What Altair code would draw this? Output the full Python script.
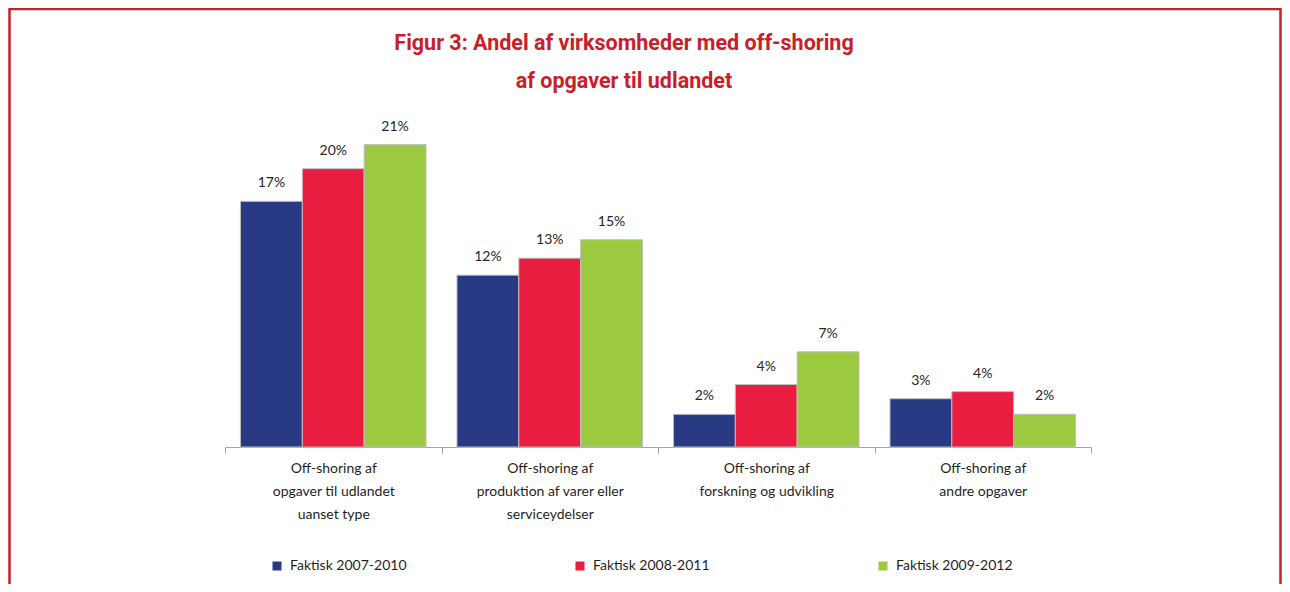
import altair as alt
import pandas as pd

categories = [
    "Off-shoring af\nopgaver til udlandet\nuanset type",
    "Off-shoring af\nproduktion af varer eller\nserviceydelser",
    "Off-shoring  af\nforskning og udvikling",
    "Off-shoring  af\nandre opgaver",
]
series = ["Faktisk 2007-2010", "Faktisk 2008-2011", "Faktisk 2009-2012"]
values_2007_2010 = [0.173, 0.121, 0.023, 0.034]
values_2008_2011 = [0.196, 0.133, 0.044, 0.039]
values_2009_2012 = [0.213, 0.146, 0.067, 0.023]
colors = ["#283a84", "#e91d3f", "#9bc93f"]
title_lines = ["Figur 3: Andel af virksomheder med off-shoring", "af opgaver til udlandet"]

rows = []
for s, vals in zip(series, [values_2007_2010, values_2008_2011, values_2009_2012]):
    for c, v in zip(categories, vals):
        rows.append({"kategori": c, "serie": s, "andel": v})
df = pd.DataFrame(rows)

FONT = "Lato"
W, H = 866, 355
RED = "#c8202a"

x_enc = alt.X(
    "kategori:N",
    sort=categories,
    scale=alt.Scale(paddingInner=0, paddingOuter=0),
    axis=alt.Axis(
        title=None,
        labelAngle=0,
        labelExpr="split(datum.label, '\\n')",
        labelFont=FONT,
        labelFontSize=14,
        labelColor="#1f1f1f",
        labelLineHeight=23,
        labelPadding=8,
        labelLimit=300,
        tickBand="extent",
        tickSize=6,
        tickColor="#a6a6a6",
        domainColor="#a6a6a6",
        grid=False,
    ),
)
xoff = alt.XOffset("serie:N", sort=series, scale=alt.Scale(paddingInner=0, paddingOuter=0.25))
y_enc = alt.Y("andel:Q", scale=alt.Scale(domain=[0, 0.25]), axis=None)

bars = alt.Chart(df).mark_bar(stroke="#bfbfbf", strokeWidth=1).encode(
    x=x_enc,
    xOffset=xoff,
    y=y_enc,
    color=alt.Color(
        "serie:N",
        sort=series,
        scale=alt.Scale(domain=series, range=colors),
        legend=alt.Legend(
            title=None,
            orient="none",
            legendX=45,
            legendY=467,
            direction="horizontal",
            symbolType="square",
            symbolSize=81,
            symbolStrokeWidth=0,
            labelFont=FONT,
            labelFontSize=14,
            labelColor="#1f1f1f",
            labelOffset=6,
            columnPadding=166,
            padding=0,
        ),
    ),
)

labels = alt.Chart(df).mark_text(
    baseline="bottom", dy=-11, font=FONT, fontSize=14, color="#262626"
).encode(
    x=alt.X("kategori:N", sort=categories),
    xOffset=xoff,
    y=y_enc,
    text=alt.Text("andel:Q", format=".0%"),
)

title_df = pd.DataFrame({"line": title_lines, "row": [0, 1]})
title_layers = []
for i, ypos in enumerate([-48, -10]):
    title_layers.append(
        alt.Chart(title_df)
        .transform_filter(alt.datum.row == i)
        .mark_text(
            font="Roboto", fontSize=21.5, fontWeight="bold", color=RED,
            baseline="middle", align="center",
        )
        .encode(x=alt.value(399), y=alt.value(ypos), text="line:N")
    )

frame = alt.Chart(pd.DataFrame({"d": [0]})).mark_rect(
    fill=None, filled=False, stroke=RED, strokeWidth=2.5
).encode(
    x=alt.value(-215.5), x2=alt.value(1055.5), y=alt.value(-83), y2=alt.value(620)
)

chart = (
    alt.layer(frame, bars, labels, *title_layers)
    .properties(
        width=W,
        height=H,
        autosize=alt.AutoSizeParams(type="none"),
        padding={"left": 217, "top": 84, "right": 191, "bottom": 137},
    )
    .configure_view(stroke=None)
)

chart.save("out.html", embed_options={"renderer": "svg", "actions": False})
